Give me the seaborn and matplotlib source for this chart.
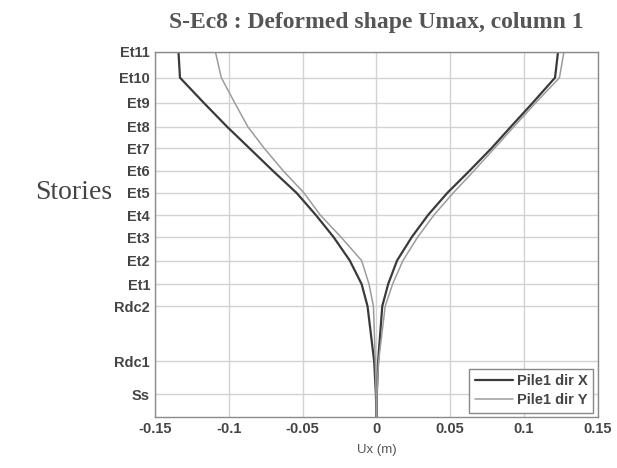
import pandas as pd
import matplotlib
matplotlib.use('Agg')
import matplotlib.pyplot as plt
from matplotlib.lines import Line2D
import seaborn as sns

# Story levels (elevation in m) and their tick labels
level_names = ['Ss', 'Rdc1', 'Rdc2', 'Et1', 'Et2', 'Et3', 'Et4', 'Et5',
               'Et6', 'Et7', 'Et8', 'Et9', 'Et10', 'Et11']
level_z = [0.0, 4.5, 12.0, 15.0, 18.2, 21.4, 24.4, 27.4,
           30.4, 33.5, 36.4, 39.7, 43.1, 46.6]

# Pile tip + story levels for the deformed shape
z_pts = [-3.1] + level_z

# Envelope of displacement Ux (m), min and max branches
ux_x_min = [0.0, -0.0003, -0.0015, -0.006, -0.010, -0.018, -0.029, -0.041,
            -0.054, -0.070, -0.086, -0.101, -0.117, -0.133, -0.134]
ux_x_max = [0.0, 0.0003, 0.0012, 0.004, 0.008, 0.014, 0.024, 0.035,
            0.048, 0.063, 0.078, 0.091, 0.106, 0.121, 0.123]
ux_y_min = [0.0, -0.0002, -0.0007, -0.002, -0.005, -0.010, -0.024, -0.038,
            -0.049, -0.063, -0.076, -0.087, -0.096, -0.105, -0.109]
ux_y_max = [0.0, 0.0004, 0.0015, 0.006, 0.011, 0.018, 0.028, 0.039,
            0.052, 0.066, 0.080, 0.093, 0.108, 0.124, 0.127]

x_ticks = [-0.15, -0.1, -0.05, 0, 0.05, 0.1, 0.15]
x_tick_labels = ['-0.15', '-0.1', '-0.05', '0', '0.05', '0.1', '0.15']

rows = []
for name, branch, vals in [('Pile1 dir X', 'min', ux_x_min), ('Pile1 dir X', 'max', ux_x_max),
                           ('Pile1 dir Y', 'min', ux_y_min), ('Pile1 dir Y', 'max', ux_y_max)]:
    for z, u in zip(z_pts, vals):
        rows.append({'Ux': u, 'z': z, 'series': name, 'branch': name + branch})
df = pd.DataFrame(rows)

sns.set_theme(style='white')
plt.rcParams['font.family'] = ['Liberation Sans', 'DejaVu Sans']

fig = plt.figure(figsize=(6.17, 4.68), dpi=100)
ax = fig.add_axes([0.251, 0.109, 0.718, 0.780])

palette = {'Pile1 dir X': '#3a3a3a', 'Pile1 dir Y': '#9c9c9c'}
sns.lineplot(data=df, x='Ux', y='z', hue='series', units='branch', estimator=None,
             sort=False, palette=palette, size='series',
             sizes={'Pile1 dir X': 1.6, 'Pile1 dir Y': 1.1}, ax=ax, legend=False)

ax.set_xlim(-0.15, 0.15)
ax.set_ylim(-3.1, 46.6)
ax.set_xticks(x_ticks)
ax.set_xticklabels(x_tick_labels)
ax.set_yticks(level_z)
ax.set_yticklabels(level_names)
ax.grid(True, color='#d2d2d2', linewidth=1.0, linestyle='-')
ax.tick_params(axis='both', labelsize=10.5, colors='#888888', labelcolor='#444444',
               direction='in', length=3)
for lab in ax.get_xticklabels() + ax.get_yticklabels():
    lab.set_fontweight('bold')
for sp in ax.spines.values():
    sp.set_color('#8a8a8a')
    sp.set_linewidth(1.0)

ax.set_xlabel('Ux (m)', fontsize=9.5, color='#555555', labelpad=6)
ax.set_ylabel('Stories', rotation=0, fontsize=20, family='Liberation Serif',
              color='#444444', ha='center', va='center')
ax.yaxis.set_label_coords(-0.183, 0.614)
ax.set_title('S-Ec8 : Deformed shape Umax, column 1', family='Liberation Serif',
             fontsize=17, fontweight='bold', color='#555555', pad=17)

handles = [Line2D([], [], color='#3a3a3a', lw=1.6), Line2D([], [], color='#9c9c9c', lw=1.1)]
leg = ax.legend(handles, ['Pile1 dir X', 'Pile1 dir Y'], loc='lower right',
                fancybox=False, framealpha=1, edgecolor='#888888', borderaxespad=0.3,
                handlelength=2.6, handletextpad=0.3, labelspacing=0.3,
                prop={'size': 10.5, 'weight': 'bold'})
for t in leg.get_texts():
    t.set_color('#444444')

fig.savefig('out.png', dpi=100)
